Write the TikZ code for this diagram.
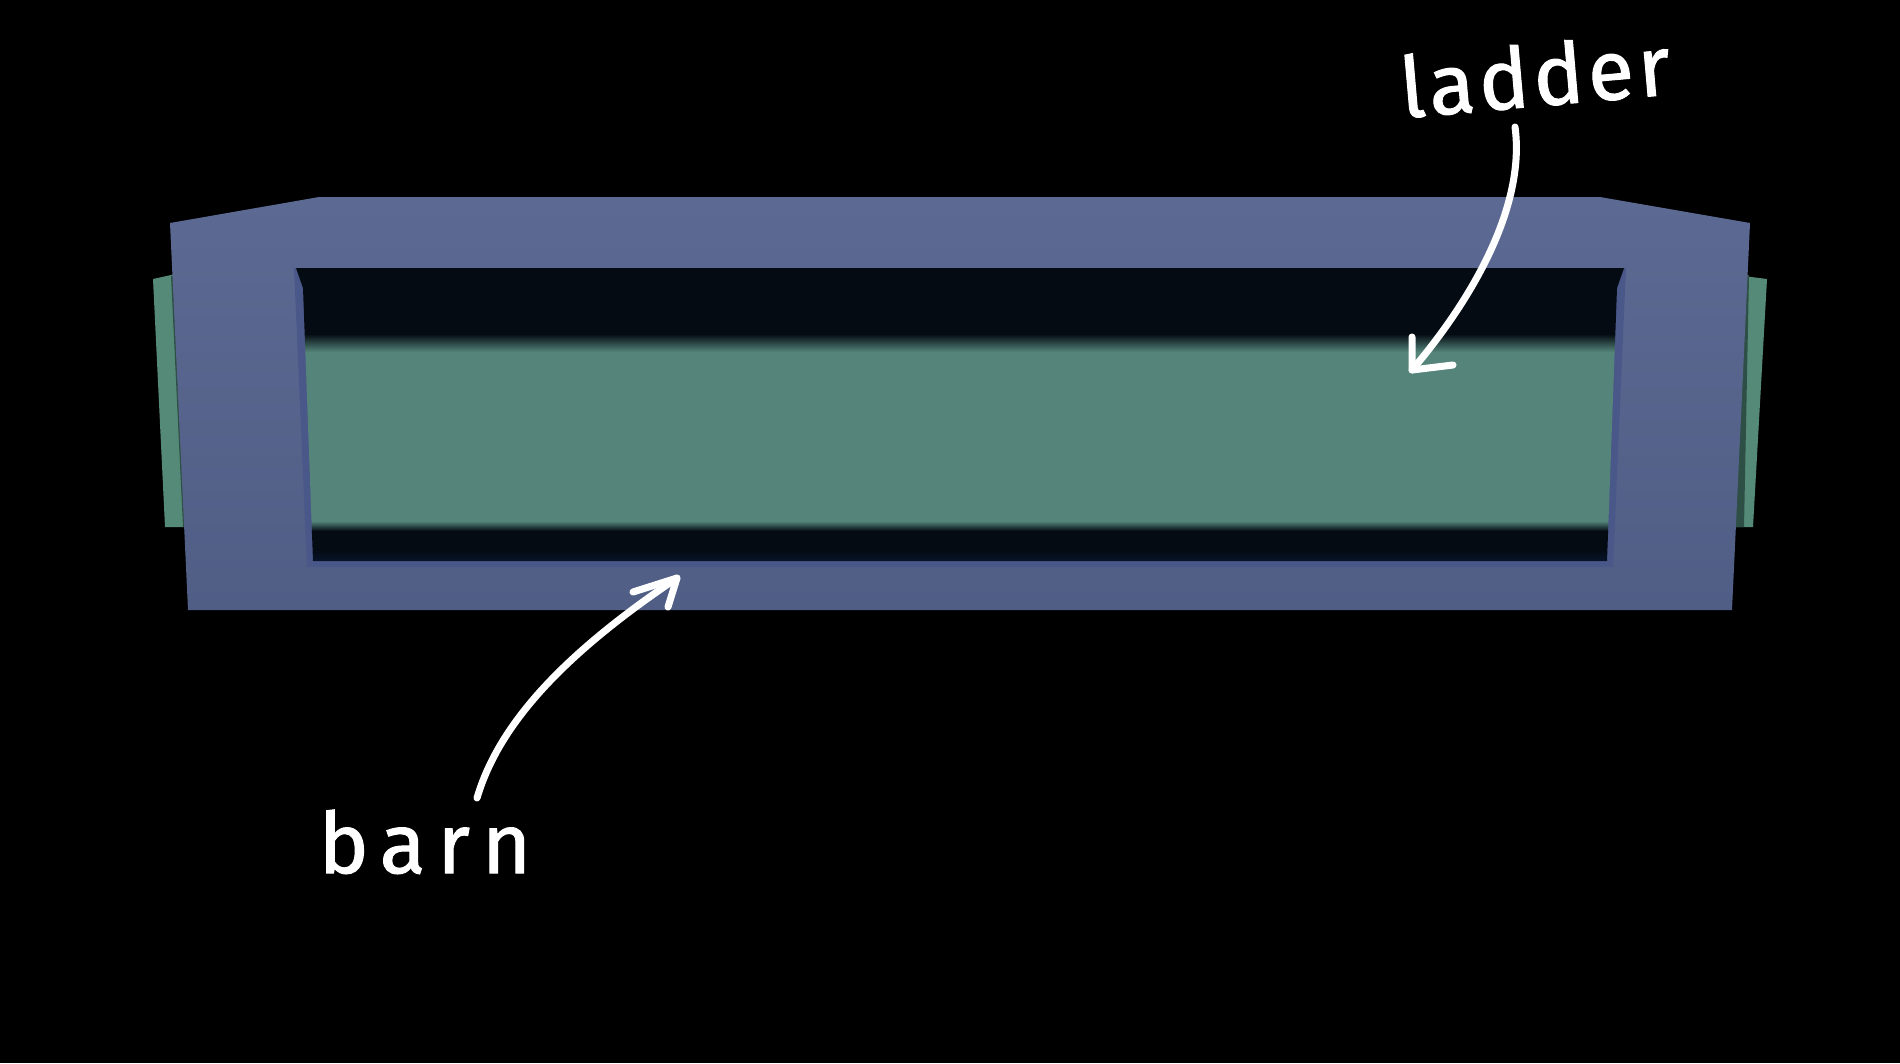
\documentclass[tikz,border=0pt]{standalone}
\usepackage{fontspec}
\newfontfamily\handA{Fira Sans}[LetterSpace=5,FakeBold=1.2]
\newfontfamily\handB{Fira Sans}[LetterSpace=14,FakeBold=1.2]
\definecolor{frameTop}{HTML}{5C6A93}
\definecolor{frameBot}{HTML}{505D85}
\definecolor{bevelc}{HTML}{4A5889}
\definecolor{voidc}{HTML}{040B13}
\definecolor{voidglow}{HTML}{081632}
\definecolor{greenc}{HTML}{54847A}
\definecolor{sidegreen}{HTML}{558A78}
\definecolor{sideshadow}{HTML}{2E4F45}
\begin{document}
\begin{tikzpicture}[x=0.01cm,y=-0.01cm,
  note/.style={white, inner sep=0pt},
  arrowline/.style={white, line width=2pt, line cap=round, line join=round}]
\useasboundingbox (0,0) rectangle (1900,1063);
\fill[black] (0,0) rectangle (1900,1063);

% green side panels behind the frame
\fill[sidegreen] (153,279) -- (180,273) -- (190,527) -- (165,527) -- cycle;
\fill[sideshadow] (171,276) -- (180,274) -- (190,527) -- (183,527) -- cycle;
\fill[sidegreen] (1720,273) -- (1767,279) -- (1753,527) -- (1728,527) -- cycle;
\fill[sideshadow] (1740,274) -- (1749,275) -- (1744,527) -- (1734,527) -- cycle;

% frame
\shade[top color=frameTop, bottom color=frameBot]
  (170,223) -- (319,197) -- (1600,197) -- (1750,223) -- (1732,610) -- (188,610) -- cycle;

% window bevel
\fill[bevelc] (294,268) -- (1626,268) -- (1613,567) -- (307,567) -- cycle;

% window interior
\begin{scope}
\clip (296,268) -- (1624,268) -- (1617,288) -- (1607,561) -- (313,561) -- (303,288) -- cycle;
\fill[voidc] (290,265) rectangle (1630,334);
\shade[top color=voidc, bottom color=greenc] (290,334) rectangle (1630,352);
\fill[greenc] (290,352) rectangle (1630,521);
\shade[top color=greenc, bottom color=voidc] (290,521) rectangle (1630,531);
\fill[voidc] (290,531) rectangle (1630,550);
\shade[top color=voidc, bottom color=voidglow] (290,550) rectangle (1630,565);
\end{scope}

% labels
\node[note, font=\handA\fontsize{24}{28}\selectfont, anchor=base west, rotate=5] (ladder) at (1402,118) {ladder};
\node[note, font=\handB\fontsize{24}{28}\selectfont, anchor=base west] (barn) at (318,873) {barn};

% arrows
\coordinate (ladderFrom) at (1515,127);
\coordinate (ladderTo) at (1412,370);
\draw[arrowline] (ladderFrom) .. controls (1525,200) and (1480,290) .. (ladderTo);
\draw[arrowline] ([shift={(0,-33)}]ladderTo) -- (ladderTo) -- ([shift={(41,-5)}]ladderTo);

\coordinate (barnFrom) at (477,798);
\coordinate (barnTo) at (677,578);
\draw[arrowline] (barnFrom) .. controls (500,720) and (570,650) .. (barnTo);
\draw[arrowline] ([shift={(-44,14)}]barnTo) -- (barnTo) -- ([shift={(-9,29)}]barnTo);
\end{tikzpicture}
\end{document}
